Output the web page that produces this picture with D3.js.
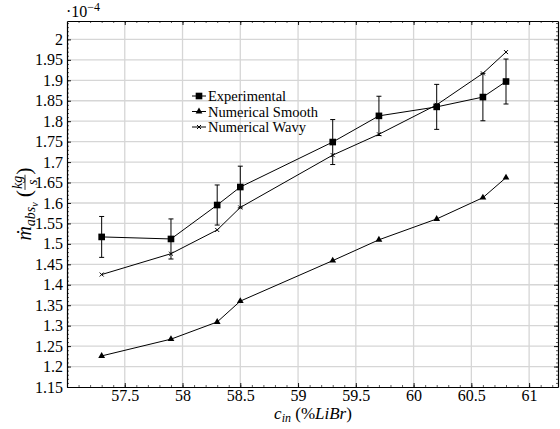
<!DOCTYPE html>
<html><head><meta charset="utf-8">
<script src="https://cdn.jsdelivr.net/npm/d3@7"></script>
<style>
body{margin:0;background:#fff}
</style>
</head><body>
<svg id="c" width="560" height="429"></svg>
<script>
// ---- data ----
const concentration = [57.3, 57.9, 58.3, 58.5, 59.3, 59.7, 60.2, 60.6, 60.8];
const experimental = [1.517, 1.512, 1.595, 1.639, 1.749, 1.813, 1.835, 1.859, 1.897];
const experimentalErr = [0.050, 0.049, 0.049, 0.051, 0.055, 0.048, 0.055, 0.058, 0.055];
const numericalSmooth = [1.226, 1.267, 1.309, 1.360, 1.459, 1.510, 1.561, 1.613, 1.662];
const numericalWavy = [1.425, 1.476, 1.534, 1.589, 1.717, 1.768, 1.840, 1.917, 1.969];
const xTicks = [57.5, 58, 58.5, 59, 59.5, 60, 60.5, 61];
const yTicks = [1.15, 1.2, 1.25, 1.3, 1.35, 1.4, 1.45, 1.5, 1.55, 1.6, 1.65, 1.7, 1.75, 1.8, 1.85, 1.9, 1.95, 2];
const legendLabels = ["Experimental", "Numerical Smooth", "Numerical Wavy"];

const FONT = "'Liberation Serif'";
const svg = d3.select("#c");
const L = 67, R = 558, T = 21, B = 387;
const x = d3.scaleLinear([57, 61.25], [L, R]);
const y = d3.scaleLinear([1.15, 2.045], [B, T]);

// grid
const grid = svg.append("g").attr("stroke", "#d6d6d6").attr("stroke-width", 1.3);
grid.selectAll("line.vx").data(xTicks).join("line")
  .attr("x1", d => x(d)).attr("x2", d => x(d)).attr("y1", T).attr("y2", B);
grid.selectAll("line.hy").data(yTicks.filter(d => d > 1.15)).join("line")
  .attr("x1", L).attr("x2", R).attr("y1", d => y(d)).attr("y2", d => y(d));

// minor ticks
const xMinor = d3.range(57.1, 61.25, 0.1).map(v => +v.toFixed(2));
const yMinor = d3.range(1.16, 2.045, 0.01).map(v => +v.toFixed(3));
function minorAxis(axisFn, scale, vals, tr) {
  svg.append("g").attr("transform", tr)
    .call(axisFn(scale).tickValues(vals).tickSize(-2).tickSizeOuter(0).tickFormat(""))
    .call(g => g.select(".domain").remove())
    .call(g => g.selectAll("line").attr("stroke", "#333").attr("stroke-width", 0.8));
}
minorAxis(d3.axisBottom, x, xMinor, `translate(0,${B})`);
minorAxis(d3.axisTop, x, xMinor, `translate(0,${T})`);
minorAxis(d3.axisLeft, y, yMinor, `translate(${L},0)`);
minorAxis(d3.axisRight, y, yMinor, `translate(${R},0)`);

// major axes
const fmt = d => String(+d.toFixed(2));
const ax = svg.append("g").attr("transform", `translate(0,${B})`)
  .call(d3.axisBottom(x).tickValues(xTicks).tickSize(-4).tickSizeOuter(0).tickPadding(3).tickFormat(fmt));
const ay = svg.append("g").attr("transform", `translate(${L},0)`)
  .call(d3.axisLeft(y).tickValues(yTicks).tickSize(-4).tickSizeOuter(0).tickPadding(4).tickFormat(fmt));
const axT = svg.append("g").attr("transform", `translate(0,${T})`)
  .call(d3.axisTop(x).tickValues(xTicks).tickSize(-4).tickSizeOuter(0).tickFormat(""));
const ayR = svg.append("g").attr("transform", `translate(${R},0)`)
  .call(d3.axisRight(y).tickValues(yTicks).tickSize(-4).tickSizeOuter(0).tickFormat(""));
[ax, ay, axT, ayR].forEach(g => {
  g.attr("font-family", null).attr("font-size", null);
  g.selectAll("text").style("font-size", "16px").style("font-family", FONT).attr("fill", "#000");
  g.selectAll("line").attr("stroke", "#000").attr("stroke-width", 0.9);
  g.select(".domain").attr("stroke", "#000").attr("stroke-width", 1.2);
});

// series lines
const line = d3.line().x(d => x(d[0])).y(d => y(d[1]));
function series(vals) { return concentration.map((c, i) => [c, vals[i]]); }
[experimental, numericalSmooth, numericalWavy].forEach(v => {
  svg.append("path").datum(series(v)).attr("d", line)
    .attr("fill", "none").attr("stroke", "#000").attr("stroke-width", 1);
});

// error bars
const eb = svg.append("g").attr("stroke", "#000").attr("stroke-width", 1);
concentration.forEach((c, i) => {
  const cx = x(c), y1 = y(experimental[i] + experimentalErr[i]), y2 = y(experimental[i] - experimentalErr[i]);
  eb.append("line").attr("x1", cx).attr("x2", cx).attr("y1", y1).attr("y2", y2);
  eb.append("line").attr("x1", cx - 2.5).attr("x2", cx + 2.5).attr("y1", y1).attr("y2", y1);
  eb.append("line").attr("x1", cx - 2.5).attr("x2", cx + 2.5).attr("y1", y2).attr("y2", y2);
});

// markers
const sq = d3.symbol(d3.symbolSquare, 44)();
const tri = d3.symbol(d3.symbolTriangle, 20)();
const crossPath = "M-2,-2L2,2M-2,2L2,-2";
function markers(vals, p, stroke) {
  svg.append("g").selectAll("path").data(series(vals)).join("path")
    .attr("transform", d => `translate(${x(d[0])},${y(d[1])})`)
    .attr("d", p)
    .attr("fill", stroke ? "none" : "#000")
    .attr("stroke", "#000").attr("stroke-width", stroke ? 1 : 0);
}
markers(experimental, sq, false);
markers(numericalSmooth, tri, false);
markers(numericalWavy, crossPath, true);

// legend
const leg = svg.append("g");
const legY = [96, 111.5, 127];
const legSyms = [[sq, false], [tri, false], [crossPath, true]];
legendLabels.forEach((lab, i) => {
  leg.append("line").attr("x1", 192).attr("x2", 206).attr("y1", legY[i]).attr("y2", legY[i])
    .attr("stroke", "#000").attr("stroke-width", 1);
  leg.append("path").attr("transform", `translate(199,${legY[i]})`).attr("d", legSyms[i][0])
    .attr("fill", legSyms[i][1] ? "none" : "#000").attr("stroke", "#000")
    .attr("stroke-width", legSyms[i][1] ? 1 : 0);
  leg.append("text").attr("x", 208).attr("y", legY[i] + 5)
    .style("font-size", "14.5px").style("font-family", FONT).text(lab);
});

// exponent label
const ex = svg.append("text").attr("x", 66).attr("y", 17).style("font-size", "16px").style("font-family", FONT);
ex.append("tspan").text("·10");
ex.append("tspan").style("font-size", "12px").attr("dy", -6).text("−4");

// x-axis label
const xl = svg.append("text").attr("x", 313).attr("y", 419).attr("text-anchor", "middle")
  .style("font-size", "17px").style("font-family", FONT);
xl.append("tspan").style("font-style", "italic").text("c");
xl.append("tspan").style("font-style", "italic").style("font-size", "12px").attr("dy", 3).text("in");
xl.append("tspan").attr("dy", -3).text(" (%");
xl.append("tspan").style("font-style", "italic").text("LiBr");
xl.append("tspan").text(")");

// y-axis label (rotated)
const yl = svg.append("g").attr("transform", "translate(31,204) rotate(-90)");
let u = 0;
function part(txt, size, v, italic) {
  const t = yl.append("text").attr("x", u).attr("y", v).style("font-size", size + "px")
    .style("font-family", FONT)
    .style("font-style", italic ? "italic" : "normal").text(txt);
  const w = t.node().getComputedTextLength();
  u += w;
  return {t, w};
}
part("ṁ", 20, 0, true);
part("abs", 14, 4, true);
part("v", 10, 7, true);
u += 5;
part("(", 22, 0, false);
const fracStart = u;
const num = yl.append("text").attr("x", u).attr("y", -9).style("font-size", "14px").style("font-family", FONT)
  .style("font-style", "italic").text("kg");
const nw = num.node().getComputedTextLength();
const den = yl.append("text").attr("y", 6).style("font-size", "14px").style("font-family", FONT)
  .style("font-style", "italic").text("s");
const dw = den.node().getComputedTextLength();
const fw = Math.max(nw, dw) + 2;
num.attr("x", fracStart + (fw - nw) / 2);
den.attr("x", fracStart + (fw - dw) / 2);
yl.append("line").attr("x1", fracStart).attr("x2", fracStart + fw).attr("y1", -6).attr("y2", -6)
  .attr("stroke", "#000").attr("stroke-width", 0.8);
u += fw;
part(")", 22, 0, false);
const total = u;
yl.selectAll("text").each(function() { const s = d3.select(this); s.attr("x", +s.attr("x") - total / 2); });
yl.selectAll("line").attr("x1", function() { return +d3.select(this).attr("x1") - total / 2; })
  .attr("x2", function() { return +d3.select(this).attr("x2") - total / 2; });
</script>
</body></html>
